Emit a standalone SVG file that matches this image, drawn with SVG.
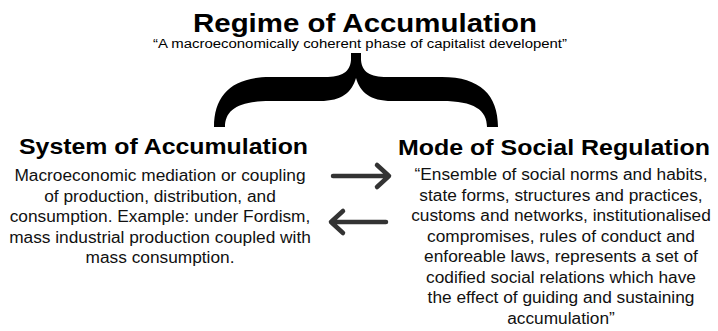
<svg xmlns="http://www.w3.org/2000/svg" width="718" height="331" viewBox="0 0 718 331">
  <style>
    text { font-family: "Liberation Sans", Arial, Helvetica, sans-serif; fill: #000; text-anchor: middle; }
    .title { font-size: 26px; font-weight: bold; }
    .sub { font-size: 12px; }
    .head { font-size: 22.5px; font-weight: bold; }
    .body { font-size: 17.3px; fill: #111; }
    .arrow { fill: none; stroke: #333; stroke-width: 4.5; stroke-linecap: round; stroke-linejoin: round; }
  </style>
  <rect width="718" height="331" fill="#fff"/>

  <g id="regime">
    <text class="title" x="365" y="31.5" textLength="344" lengthAdjust="spacingAndGlyphs">Regime of Accumulation</text>
    <text class="sub" x="360" y="48" textLength="414" lengthAdjust="spacingAndGlyphs">“A macroeconomically coherent phase of capitalist developent”</text>
  </g>

  <g id="brace">
    <path fill="#000" d="M351,53 L351,60 C350,72 342,77 325,77 L270,77 C232,77 214,95 214,127 L225,127 C225,110 238,101 270,101 L320,101 C342,101 352,92 356,78 C360,92 370,101 392,101 L442,101 C474,101 487,110 487,127 L498,127 C498,95 480,77 442,77 L387,77 C370,77 362,72 361,60 L361,53 Z"/>
  </g>

  <g id="system">
    <text class="head" x="163.5" y="154" textLength="289" lengthAdjust="spacingAndGlyphs">System of Accumulation</text>
    <text class="body" x="160" y="181">Macroeconomic mediation or coupling</text>
    <text class="body" x="160" y="201.5">of production, distribution, and</text>
    <text class="body" x="160" y="222">consumption. Example: under Fordism,</text>
    <text class="body" x="160" y="242.5">mass industrial production coupled with</text>
    <text class="body" x="160" y="263">mass consumption.</text>
  </g>

  <g id="mode">
    <text class="head" x="554" y="155" textLength="312" lengthAdjust="spacingAndGlyphs">Mode of Social Regulation</text>
    <text class="body" x="561" y="180">“Ensemble of social norms and habits,</text>
    <text class="body" x="561" y="200.5">state forms, structures and practices,</text>
    <text class="body" x="561" y="221">customs and networks, institutionalised</text>
    <text class="body" x="561" y="241.5">compromises, rules of conduct and</text>
    <text class="body" x="561" y="262">enforeable laws, represents a set of</text>
    <text class="body" x="561" y="282.5">codified social relations which have</text>
    <text class="body" x="561" y="303">the effect of guiding and sustaining</text>
    <text class="body" x="561" y="323.5">accumulation”</text>
  </g>

  <g id="connectors">
    <path class="arrow" d="M333,176 L388,176 M377,165 L389,176 L377,187"/>
    <path class="arrow" d="M386,222 L331,222 M343,211 L331,222 L343,233"/>
  </g>
</svg>
